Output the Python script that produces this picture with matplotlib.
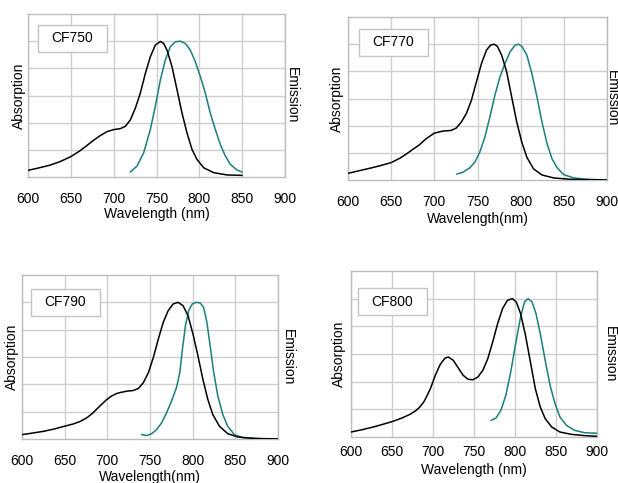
import matplotlib
matplotlib.use("Agg")
import matplotlib.pyplot as plt
from matplotlib.patches import Rectangle

plt.rcParams['font.family'] = ['Liberation Sans', 'DejaVu Sans']

# ---------------- data ----------------
names = ["CF750", "CF770", "CF790", "CF800"]
xticks = [600, 650, 700, 750, 800, 850, 900]
xlabels = ["Wavelength (nm)", "Wavelength(nm)", "Wavelength(nm)", "Wavelength (nm)"]

abs750_x = [600, 612, 625, 637, 650, 660, 668, 676, 684.4, 692.2, 700, 707.8, 713.6, 719.5, 725.3, 731.1, 737, 742.8, 748.6, 754.5,
            758.4, 762.3, 768.1, 774, 779.8, 785.6, 791.5, 797.3, 805.1, 816.7, 832.3, 849.8]
abs750_y = [0.049, 0.066, 0.086, 0.112, 0.15, 0.19, 0.228, 0.268, 0.305, 0.334, 0.349, 0.356, 0.373, 0.42, 0.507, 0.617, 0.763, 0.885, 0.971, 0.998,
            0.983, 0.934, 0.812, 0.641, 0.47, 0.324, 0.202, 0.129, 0.068, 0.032, 0.015, 0.012]
em750_x = [719.5, 727.2, 735, 742.8, 748.6, 754.5, 760.3, 766.1, 772, 777.8, 783.7, 789.5, 795.3, 801.2, 807,
           812.8, 818.7, 824.5, 830.4, 836.2, 844, 849.8]
em750_y = [0.037, 0.08, 0.178, 0.349, 0.52, 0.715, 0.861, 0.959, 0.995, 1.0, 0.983, 0.934, 0.849, 0.739, 0.617,
           0.47, 0.349, 0.239, 0.154, 0.093, 0.051, 0.037]

abs770_x = [600, 612, 625, 637, 650, 660, 668, 675, 682.5, 690.3, 700, 709.7, 719.5, 725.3, 731.2, 737, 742.9, 748.7, 754.6, 760.4,
            765.1, 769, 772.9, 778, 783.8, 789.6, 795.5, 801.3, 807.2, 815, 824.7, 838.4, 857.9, 900]
abs770_y = [0.049, 0.067, 0.086, 0.105, 0.128, 0.16, 0.193, 0.225, 0.258, 0.303, 0.345, 0.36, 0.365, 0.382, 0.426, 0.488, 0.586, 0.722, 0.857, 0.956,
            0.993, 1.0, 0.985, 0.919, 0.796, 0.611, 0.426, 0.278, 0.167, 0.081, 0.037, 0.015, 0.005, 0.0]
em770_x = [726.1, 733.1, 740.9, 746.8, 752.6, 758.5, 764.3, 770.1, 776, 781.8, 787.7, 793.5, 797.4, 801.3, 807.2,
           813, 818.9, 824.7, 830.6, 836.4, 842.3, 850, 861.7, 877.3, 900]
em770_y = [0.044, 0.057, 0.089, 0.13, 0.204, 0.315, 0.463, 0.623, 0.759, 0.857, 0.943, 0.993, 1.0, 0.985, 0.919,
           0.783, 0.611, 0.426, 0.266, 0.155, 0.089, 0.039, 0.015, 0.005, 0.0]

abs790_x = [600, 612, 625, 637, 649, 660, 668, 676, 683, 691, 699, 705, 711, 715.1, 722.9, 730.6, 736.4, 742.2, 748.1, 753.9, 759.7, 765.5, 771.3,
            777.1, 782.9, 788.8, 794.6, 800.4, 806.2, 812, 817.8, 823.6, 831.4, 841.1, 852.7, 870.2, 900]
abs790_y = [0.032, 0.043, 0.056, 0.072, 0.092, 0.11, 0.128, 0.155, 0.19, 0.24, 0.287, 0.315, 0.333, 0.34, 0.35, 0.355, 0.37, 0.412, 0.485, 0.596, 0.73, 0.853, 0.939,
            0.988, 1.0, 0.975, 0.902, 0.767, 0.608, 0.436, 0.289, 0.179, 0.093, 0.039, 0.015, 0.005, 0.0]
em790_x = [740.3, 746.1, 751.9, 757.8, 763.6, 769.4, 775.2, 781, 784.9, 788, 791.5, 795.3, 799.6, 804.3, 808.9,
           812.8, 816.7, 820.5, 824.4, 829.5, 835.3, 841.1, 848.8, 858.5, 877.9, 900]
em790_y = [0.032, 0.025, 0.039, 0.069, 0.118, 0.191, 0.277, 0.375, 0.485, 0.657, 0.828, 0.939, 0.988, 1.0, 0.995,
           0.963, 0.853, 0.681, 0.498, 0.314, 0.179, 0.093, 0.032, 0.01, 0.002, 0.0]

abs800_x = [600, 613, 627, 639, 651, 662, 672, 679, 684, 689, 692, 696.8, 702.8, 708.8, 714.8, 718.8, 724.8, 730.8, 736.8, 742.8, 748.8, 754.8,
            760.8, 766.8, 772.8, 778.8, 784.8, 790.8, 796.8, 801.6, 806.8, 812.8, 818.8, 824.8, 830.8, 836.8,
            844.8, 854.8, 868.8, 884.8, 900]
abs800_y = [0.036, 0.052, 0.072, 0.092, 0.113, 0.137, 0.164, 0.19, 0.217, 0.255, 0.29, 0.349, 0.446, 0.525, 0.571, 0.578, 0.554, 0.499, 0.446, 0.417, 0.414, 0.434,
            0.482, 0.566, 0.687, 0.819, 0.928, 0.988, 1.0, 0.976, 0.892, 0.735, 0.542, 0.349, 0.217, 0.133,
            0.072, 0.036, 0.019, 0.01, 0.005]
em800_x = [770.8, 776.8, 782.8, 788.8, 794.8, 800.8, 806.8, 811.6, 816, 820.8, 825.6, 830.8, 836.8, 842.8, 848.8,
           854.8, 862.8, 872.8, 884.8, 900]
em800_y = [0.12, 0.137, 0.193, 0.301, 0.47, 0.675, 0.867, 0.976, 1.0, 0.976, 0.892, 0.747, 0.554, 0.373, 0.241,
           0.145, 0.084, 0.048, 0.031, 0.027]

abs_x = [abs750_x, abs770_x, abs790_x, abs800_x]
abs_y = [abs750_y, abs770_y, abs790_y, abs800_y]
em_x = [em750_x, em770_x, em790_x, em800_x]
em_y = [em750_y, em770_y, em790_y, em800_y]

# ---------------- layout (pixels) ----------------
W, H = 618, 483
boxes = [(28, 285, 14, 177), (348, 607, 17, 180), (22, 278, 275, 439), (351, 597, 271, 437)]
tickpads = [11, 11, 10.5, 6]
labelpads = [0.5, 2.0, 2.0, 2.5]
ylab_off = [9, 11, 10, 12]
emlab_off = [7, 5, 10, 13]
lbl_pos = [(10, 11), (11, 12), (9, 14), (7, 17)]

grid_col = "#cfcfcf"
teal = "#1a7f7c"

fig = plt.figure(figsize=(W / 100, H / 100), dpi=100)

for i in range(4):
    l, r, t, b = boxes[i]
    ax = fig.add_axes([l / W, (H - b) / H, (r - l) / W, (b - t) / H])
    wpx, hpx = r - l, b - t
    ax.set_xlim(600, 900)
    ax.set_ylim(0, 1.2)
    ax.set_xticks(xticks)
    ax.set_yticks([0.2, 0.4, 0.6, 0.8, 1.0])
    ax.grid(True, color=grid_col, linewidth=1.0)
    ax.set_axisbelow(True)
    for s in ax.spines.values():
        s.set_color("#bdbdbd")
        s.set_linewidth(1.0)
    ax.tick_params(axis="both", length=0, labelsize=10, colors="black")
    ax.tick_params(axis="x", pad=tickpads[i])
    ax.tick_params(axis="y", labelleft=False)
    ax.set_xlabel(xlabels[i], fontsize=10, labelpad=labelpads[i])

    ax.plot(em_x[i], em_y[i], color=teal, lw=1.1, zorder=3, solid_joinstyle="round")
    ax.plot(abs_x[i], abs_y[i], color="black", lw=1.1, zorder=4, solid_joinstyle="round")

    ax.text(-ylab_off[i] / wpx, 0.5, "Absorption", rotation=90, transform=ax.transAxes,
            ha="center", va="center", fontsize=10)
    ax.text(1 + emlab_off[i] / wpx, 0.5, "Emission", rotation=-90, transform=ax.transAxes,
            ha="center", va="center", fontsize=10, clip_on=False)

    bx, by = lbl_pos[i]
    bw, bh = 69, 27
    x0 = bx / wpx
    y1 = 1 - by / hpx
    rect = Rectangle((x0, y1 - bh / hpx), bw / wpx, bh / hpx, transform=ax.transAxes,
                     facecolor="white", edgecolor="#c4c4c4", lw=1.0, zorder=2)
    ax.add_patch(rect)
    ax.text(x0 + bw / wpx / 2, y1 - bh / hpx / 2, names[i], transform=ax.transAxes,
            ha="center", va="center", fontsize=10, zorder=5)

fig.savefig("out.png", dpi=100)
